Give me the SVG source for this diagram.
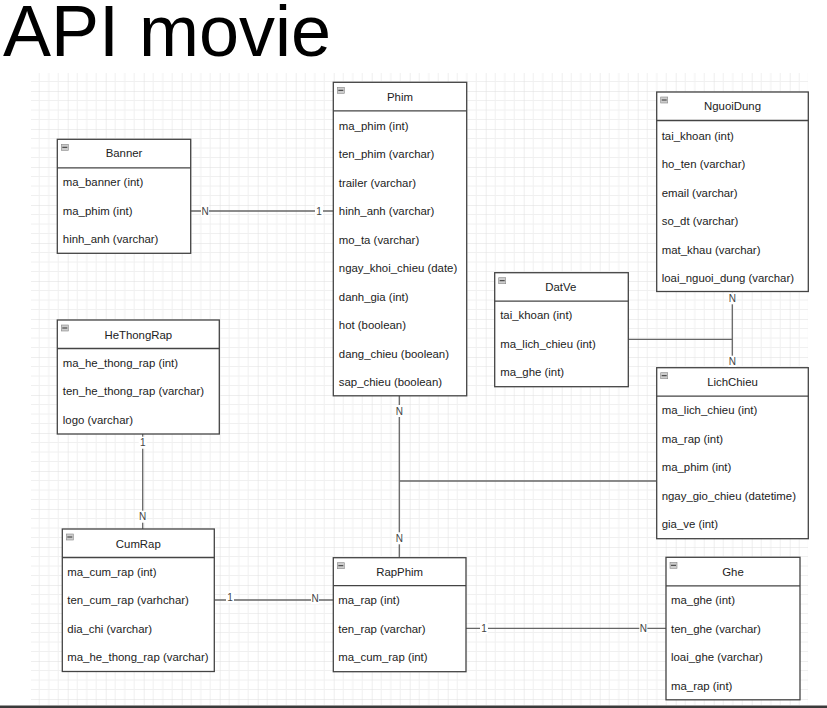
<svg xmlns="http://www.w3.org/2000/svg" width="827" height="708" viewBox="0 0 827 708">
<style>
.t{font-family:"Liberation Sans",Arial,sans-serif;font-size:11.4px;fill:#222}
.h{text-anchor:middle}
.box{fill:#fff;stroke:#444;stroke-width:1.3}
.div{stroke:#444;stroke-width:1.3}
.ic{fill:#ccc;stroke:#888;stroke-width:0.6}
.icl{stroke:#333;stroke-width:1}
.e{fill:none;stroke:#666;stroke-width:1.3}
.lb{fill:#fff}
.lt{font-family:"Liberation Sans",Arial,sans-serif;font-size:10px;fill:#444;text-anchor:middle}
</style>
<defs>
<pattern id="grid" patternUnits="userSpaceOnUse" x="29.7" y="15" width="38" height="38">
<path d="M9.5 0V38M19 0V38M28.5 0V38M0 9.5H38M0 19H38M0 28.5H38" stroke="#f0f0f0" stroke-width="1" fill="none"/>
<path d="M0 0V38M0 0H38" stroke="#dedede" stroke-width="1" fill="none"/>
</pattern>
<g id="icon"><rect class="ic" x="4" y="5" width="7" height="6"/><line class="icl" x1="5" y1="8" x2="10" y2="8"/></g>
</defs>
<rect width="827" height="708" fill="#fff"/>
<rect x="31" y="73" width="777" height="632" fill="url(#grid)"/>
<text x="3" y="56" font-family="'Liberation Sans',Arial,sans-serif" font-size="72" fill="#000">API movie</text>

<g id="connectors">
<path class="e" d="M190.7 211H333.3"/>
<path class="e" d="M732.3 291.5V367.7"/>
<path class="e" d="M628.3 339.3H732.3"/>
<path class="e" d="M142.7 434V529"/>
<path class="e" d="M399.3 395.8V557.7"/>
<path class="e" d="M399.3 481H656.7"/>
<path class="e" d="M214.3 600H333.3"/>
<path class="e" d="M466 628.3H666"/>
<rect class="lb" x="201" y="205" width="8" height="12"/><text class="lt" x="205" y="214.5">N</text>
<rect class="lb" x="315" y="205" width="8" height="12"/><text class="lt" x="319" y="214.5">1</text>
<rect class="lb" x="728.3" y="292.3" width="8" height="12"/><text class="lt" x="732.3" y="301.8">N</text>
<rect class="lb" x="728.3" y="355.7" width="8" height="12"/><text class="lt" x="732.3" y="365.2">N</text>
<rect class="lb" x="138.7" y="436.7" width="8" height="12"/><text class="lt" x="142.7" y="446.2">1</text>
<rect class="lb" x="138.7" y="510.7" width="8" height="12"/><text class="lt" x="142.7" y="520.2">N</text>
<rect class="lb" x="395.3" y="405" width="8" height="12"/><text class="lt" x="399.3" y="414.5">N</text>
<rect class="lb" x="395.3" y="532.3" width="8" height="12"/><text class="lt" x="399.3" y="541.8">N</text>
<rect class="lb" x="226" y="591" width="8" height="12"/><text class="lt" x="230" y="600.5">1</text>
<rect class="lb" x="311" y="592" width="8" height="12"/><text class="lt" x="315" y="601.5">N</text>
<rect class="lb" x="480" y="622.3" width="8" height="12"/><text class="lt" x="484" y="631.8">1</text>
<rect class="lb" x="639.3" y="622.3" width="8" height="12"/><text class="lt" x="643.3" y="631.8">N</text>
</g>

<g id="Banner" transform="translate(57.3,139.3)">
<rect class="box" width="133.4" height="114"/><line class="div" x1="0" y1="28.5" x2="133.4" y2="28.5"/><use href="#icon"/>
<text class="t h" x="66.7" y="18">Banner</text>
<text class="t" x="5.5" y="46.75">ma_banner (int)</text>
<text class="t" x="5.5" y="75.25">ma_phim (int)</text>
<text class="t" x="5.5" y="103.75">hinh_anh (varchar)</text>
</g>

<g id="Phim" transform="translate(333.3,82.3)">
<rect class="box" width="133.4" height="313.5"/><line class="div" x1="0" y1="28.5" x2="133.4" y2="28.5"/><use href="#icon"/>
<text class="t h" x="66.7" y="18.5">Phim</text>
<text class="t" x="5.5" y="47.25">ma_phim (int)</text>
<text class="t" x="5.5" y="75.75">ten_phim (varchar)</text>
<text class="t" x="5.5" y="104.25">trailer (varchar)</text>
<text class="t" x="5.5" y="132.75">hinh_anh (varchar)</text>
<text class="t" x="5.5" y="161.25">mo_ta (varchar)</text>
<text class="t" x="5.5" y="189.75">ngay_khoi_chieu (date)</text>
<text class="t" x="5.5" y="218.25">danh_gia (int)</text>
<text class="t" x="5.5" y="246.75">hot (boolean)</text>
<text class="t" x="5.5" y="275.25">dang_chieu (boolean)</text>
<text class="t" x="5.5" y="303.75">sap_chieu (boolean)</text>
</g>

<g id="NguoiDung" transform="translate(656.7,92)">
<rect class="box" width="151.6" height="199.5"/><line class="div" x1="0" y1="28.5" x2="151.6" y2="28.5"/><use href="#icon"/>
<text class="t h" x="75.8" y="18">NguoiDung</text>
<text class="t" x="5" y="47.5">tai_khoan (int)</text>
<text class="t" x="5" y="76">ho_ten (varchar)</text>
<text class="t" x="5" y="104.5">email (varchar)</text>
<text class="t" x="5" y="133">so_dt (varchar)</text>
<text class="t" x="5" y="161.5">mat_khau (varchar)</text>
<text class="t" x="5" y="190">loai_nguoi_dung (varchar)</text>
</g>

<g id="DatVe" transform="translate(494.7,272.7)">
<rect class="box" width="133.6" height="114"/><line class="div" x1="0" y1="28.5" x2="133.6" y2="28.5"/><use href="#icon"/>
<text class="t h" x="66" y="18">DatVe</text>
<text class="t" x="5.5" y="46.75">tai_khoan (int)</text>
<text class="t" x="5.5" y="75.25">ma_lich_chieu (int)</text>
<text class="t" x="5.5" y="103.75">ma_ghe (int)</text>
</g>

<g id="LichChieu" transform="translate(656.7,367.7)">
<rect class="box" width="151.6" height="171"/><line class="div" x1="0" y1="28.5" x2="151.6" y2="28.5"/><use href="#icon"/>
<text class="t h" x="75.8" y="18">LichChieu</text>
<text class="t" x="5" y="46.75">ma_lich_chieu (int)</text>
<text class="t" x="5" y="75.25">ma_rap (int)</text>
<text class="t" x="5" y="103.75">ma_phim (int)</text>
<text class="t" x="5" y="132.25">ngay_gio_chieu (datetime)</text>
<text class="t" x="5" y="160.75">gia_ve (int)</text>
</g>

<g id="HeThongRap" transform="translate(57.3,320)">
<rect class="box" width="162" height="114"/><line class="div" x1="0" y1="28.5" x2="162" y2="28.5"/><use href="#icon"/>
<text class="t h" x="81" y="19">HeThongRap</text>
<text class="t" x="5.5" y="46.75">ma_he_thong_rap (int)</text>
<text class="t" x="5.5" y="75.25">ten_he_thong_rap (varchar)</text>
<text class="t" x="5.5" y="103.75">logo (varchar)</text>
</g>

<g id="CumRap" transform="translate(62.3,529)">
<rect class="box" width="152" height="142.5"/><line class="div" x1="0" y1="28.5" x2="152" y2="28.5"/><use href="#icon"/>
<text class="t h" x="76" y="18.5">CumRap</text>
<text class="t" x="5" y="46.75">ma_cum_rap (int)</text>
<text class="t" x="5" y="75.25">ten_cum_rap (varhchar)</text>
<text class="t" x="5" y="103.75">dia_chi (varchar)</text>
<text class="t" x="5" y="132.25">ma_he_thong_rap (varchar)</text>
</g>

<g id="RapPhim" transform="translate(333.3,557.7)">
<rect class="box" width="132.7" height="114"/><line class="div" x1="0" y1="28" x2="132.7" y2="28"/><use href="#icon"/>
<text class="t h" x="66.3" y="18">RapPhim</text>
<text class="t" x="5" y="46.5">ma_rap (int)</text>
<text class="t" x="5" y="75">ten_rap (varchar)</text>
<text class="t" x="5" y="103.5">ma_cum_rap (int)</text>
</g>

<g id="Ghe" transform="translate(666,557.3)">
<rect class="box" width="134" height="142.5"/><line class="div" x1="0" y1="28.5" x2="134" y2="28.5"/><use href="#icon"/>
<text class="t h" x="67" y="18.5">Ghe</text>
<text class="t" x="5" y="46.75">ma_ghe (int)</text>
<text class="t" x="5" y="75.25">ten_ghe (varchar)</text>
<text class="t" x="5" y="103.75">loai_ghe (varchar)</text>
<text class="t" x="5" y="132.25">ma_rap (int)</text>
</g>

<rect x="0" y="705.5" width="827" height="2.5" fill="#3a3a3a"/>
</svg>
